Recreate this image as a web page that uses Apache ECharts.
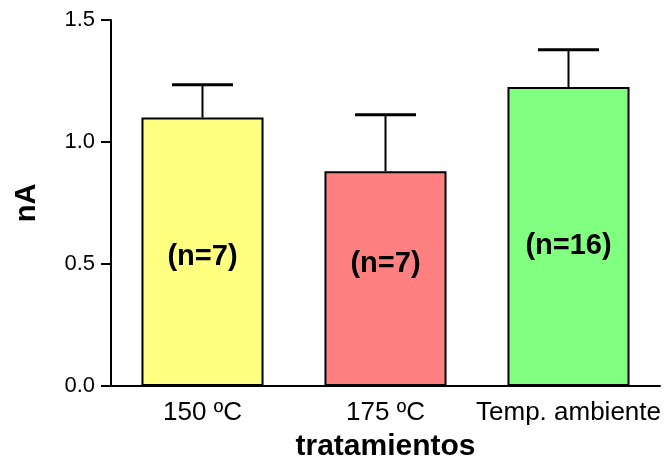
<!DOCTYPE html>
<html>
<head>
<meta charset="utf-8">
<script src="https://cdn.jsdelivr.net/npm/echarts@6/dist/echarts.min.js"></script>
<style>html,body{margin:0;padding:0;background:#fff}#c{width:670px;height:464px}</style>
</head>
<body>
<div id="c"></div>
<script>
var categories = ['150 ºC', '175 ºC', 'Temp. ambiente'];
var means = [1.10, 0.88, 1.225];
var upperErr = [1.235, 1.112, 1.378];
var nLabels = ['(n=7)', '(n=7)', '(n=16)'];
var nLabelY = [0.53, 0.50, 0.575];
var barColors = ['#FFFF80', '#FF8080', '#80FF80'];

var FONT = 'Liberation Sans, Arial, sans-serif';
var chart = echarts.init(document.getElementById('c'), null, {renderer: 'canvas'});
chart.setOption({
  animation: false,
  grid: {left: 111, right: 10, top: 20, bottom: 78, containLabel: false, outerBoundsMode: 'none'},
  xAxis: {
    type: 'category',
    data: categories,
    name: 'tratamientos',
    nameLocation: 'middle',
    nameGap: 46,
    nameTextStyle: {fontFamily: FONT, fontWeight: 'bold', fontSize: 30, color: '#000'},
    axisLine: {lineStyle: {color: '#000', width: 2}},
    axisTick: {show: false},
    axisLabel: {fontFamily: FONT, fontSize: 26, color: '#000', margin: 14, interval: 0}
  },
  yAxis: {
    type: 'value',
    min: 0, max: 1.5, interval: 0.5,
    name: 'nA',
    nameLocation: 'middle',
    nameGap: 70,
    nameTextStyle: {fontFamily: FONT, fontWeight: 'bold', fontSize: 29, color: '#000'},
    axisLine: {show: true, lineStyle: {color: '#000', width: 2}},
    axisTick: {show: true, length: 10, lineStyle: {color: '#000', width: 2}},
    splitLine: {show: false},
    axisLabel: {fontFamily: FONT, fontSize: 22, color: '#000', margin: 16,
      formatter: function (v) { return v.toFixed(1); }}
  },
  series: [
    {
      type: 'bar',
      barWidth: '66.7%',
      data: means.map(function (v, i) {
        return {value: v, itemStyle: {color: barColors[i], borderColor: '#000', borderWidth: 2}};
      }),
      z: 2
    },
    {
      type: 'custom',
      z: 3,
      data: means.map(function (v, i) { return [i, v, upperErr[i]]; }),
      renderItem: function (params, api) {
        var p0 = api.coord([api.value(0), api.value(1)]);
        var p1 = api.coord([api.value(0), api.value(2)]);
        var bw = api.size([1, 0])[0] * 0.667;
        var hw = bw / 4;
        return {
          type: 'group',
          children: [
            {type: 'line', shape: {x1: p0[0], y1: p0[1], x2: p1[0], y2: p1[1]}, style: {stroke: '#000', lineWidth: 2}},
            {type: 'line', shape: {x1: p1[0] - hw, y1: p1[1], x2: p1[0] + hw, y2: p1[1]}, style: {stroke: '#000', lineWidth: 3}}
          ]
        };
      }
    },
    {
      type: 'scatter',
      symbolSize: 1,
      itemStyle: {opacity: 1, color: 'rgba(0,0,0,0)'},
      z: 4,
      data: nLabelY.map(function (v, i) { return [i, v]; }),
      label: {
        show: true, position: 'inside', opacity: 1,
        formatter: function (p) { return nLabels[p.dataIndex]; },
        fontFamily: FONT, fontWeight: 'bold', fontSize: 29, color: '#000'
      }
    }
  ]
});
</script>
</body>
</html>
